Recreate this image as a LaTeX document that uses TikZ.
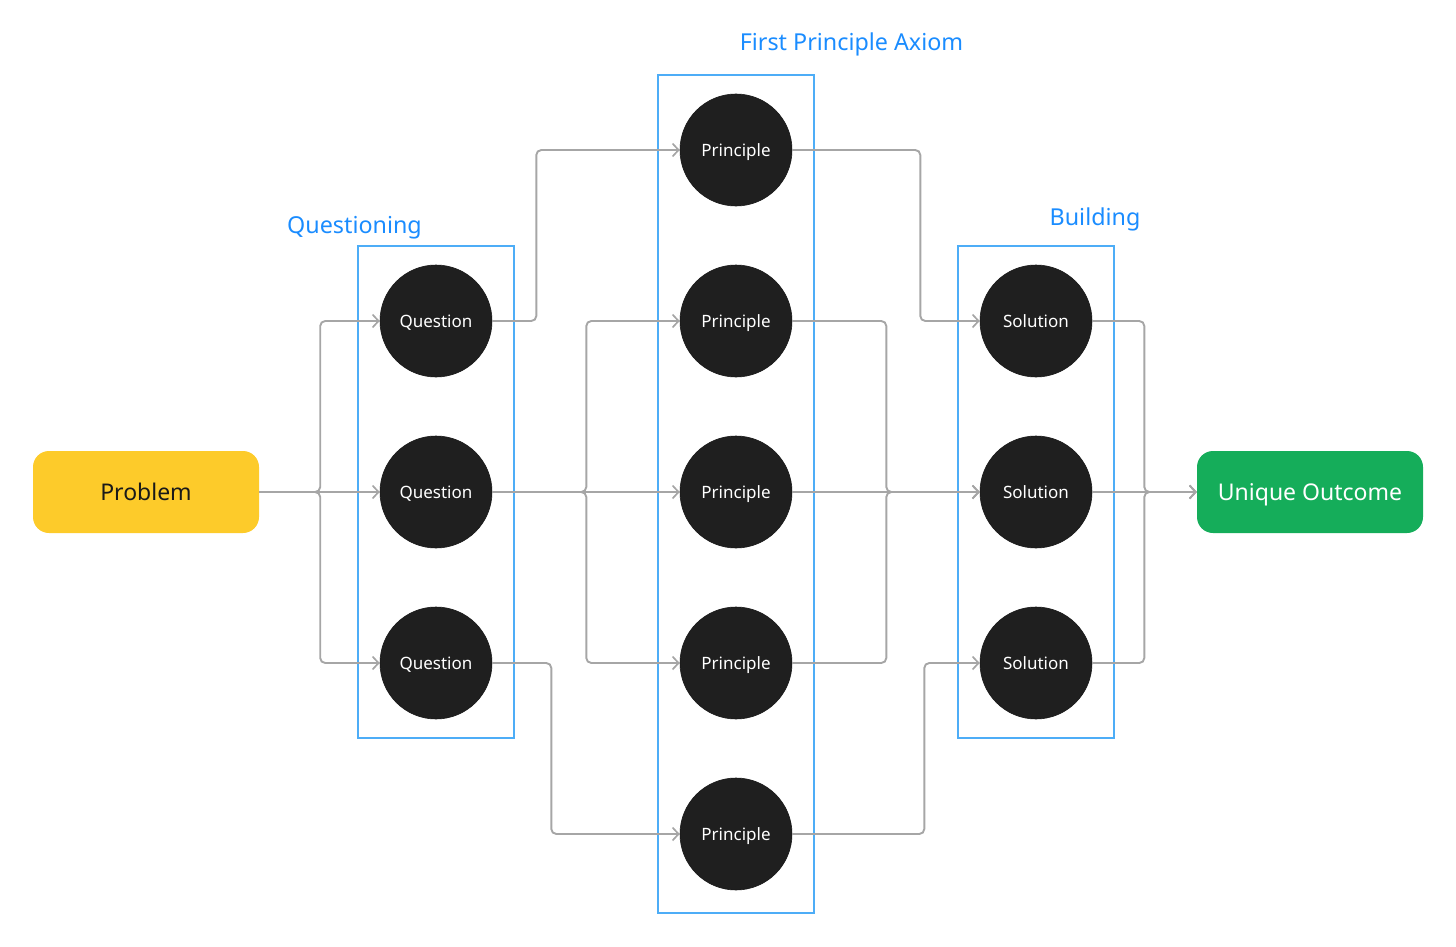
\documentclass[tikz,border=0pt]{standalone}
\usepackage{fontspec}
\setmainfont{Noto Sans}
\usetikzlibrary{arrows.meta}
\definecolor{conncol}{HTML}{A6A6A6}
\definecolor{framecol}{HTML}{4DADF7}
\definecolor{labcol}{HTML}{1A8CFF}
\definecolor{dotcol}{HTML}{1F1F1F}
\definecolor{probcol}{HTML}{FDCB2A}
\definecolor{outcol}{HTML}{15AD5A}
\tikzset{
  conn/.style={draw=conncol, line width=1.9pt, rounded corners=5pt, -{Straight Barb[length=6pt,width=13pt,line width=1.7pt]}},
  dot/.style={circle, fill=dotcol, draw=black!90, line width=0.6pt, minimum size=112pt, inner sep=0pt, text=white, text height=12.2pt, text depth=0pt, font=\fontsize{17}{19}\selectfont},
  framebox/.style={draw=framecol, line width=1.2pt, minimum width=156pt, inner sep=0pt},
  grouplabel/.style={text=labcol, font=\fontsize{23.3}{25}\selectfont},
  endbox/.style={rounded corners=16pt, minimum width=226pt, minimum height=82pt, inner sep=0pt, text height=16.5pt, text depth=0pt, font=\fontsize{23}{25}\selectfont}
}
\begin{document}
\begin{tikzpicture}[x=1pt,y=-1pt]
\useasboundingbox (0,0) rectangle (1456,947);
% frames
\node[framebox, minimum height=492pt] (fq) at (436,492) {};
\node[framebox, minimum height=838pt] (fp) at (736,494) {};
\node[framebox, minimum height=492pt] (fs) at (1036,492) {};
% labels
\node[grouplabel] (lq) at (354.5,228) {Questioning};
\node[grouplabel] (lp) at (851.5,44) {First Principle Axiom};
\node[grouplabel] (ls) at (1095,219) {Building};
% end boxes
\node[endbox, fill=probcol, text=black!90] (P) at (146,492) {Problem};
\node[endbox, fill=outcol, text=white] (O) at (1310,492) {Unique Outcome};
% circles
\node[dot] (q1) at (436,321) {Question};
\node[dot] (q2) at (436,492) {Question};
\node[dot] (q3) at (436,663) {Question};
\node[dot] (p1) at (736,150) {Principle};
\node[dot] (p2) at (736,321) {Principle};
\node[dot] (p3) at (736,492) {Principle};
\node[dot] (p4) at (736,663) {Principle};
\node[dot] (p5) at (736,834) {Principle};
\node[dot] (s1) at (1036,321) {Solution};
\node[dot] (s2) at (1036,492) {Solution};
\node[dot] (s3) at (1036,663) {Solution};
% connectors
\draw[conn] (P.east) -- ++(61,0) |- (q1.west);
\draw[conn] (P.east) -- (q2.west);
\draw[conn] (P.east) -- ++(61,0) |- (q3.west);
\draw[conn] (q1.east) -- ++(44,0) |- (p1.west);
\draw[conn] (q2.east) -- ++(94,0) |- (p2.west);
\draw[conn] (q2.east) -- (p3.west);
\draw[conn] (q2.east) -- ++(94,0) |- (p4.west);
\draw[conn] (q3.east) -- ++(59,0) |- (p5.west);
\draw[conn] (p1.east) -- ++(128,0) |- (s1.west);
\draw[conn] (p2.east) -- ++(94,0) |- (s2.west);
\draw[conn] (p3.east) -- (s2.west);
\draw[conn] (p4.east) -- ++(94,0) |- (s2.west);
\draw[conn] (p5.east) -- ++(132,0) |- (s3.west);
\draw[conn] (s1.east) -- ++(52,0) |- (O.west);
\draw[conn] (s2.east) -- (O.west);
\draw[conn] (s3.east) -- ++(52,0) |- (O.west);
\end{tikzpicture}
\end{document}
